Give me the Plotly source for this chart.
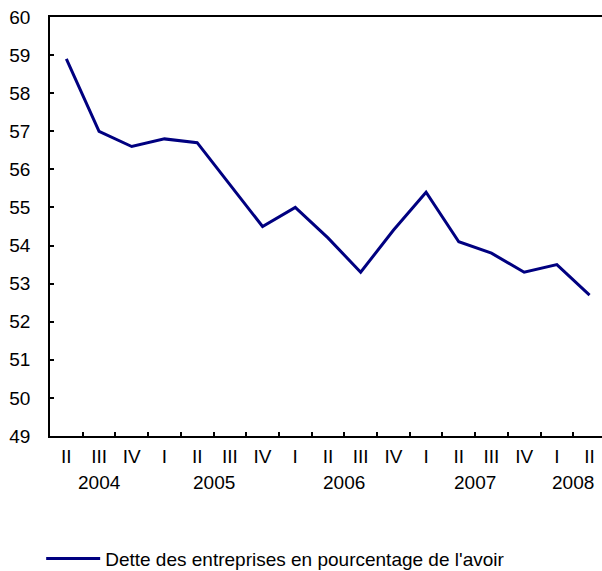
import plotly.graph_objects as go

quarters = ["II", "III", "IV", "I", "II", "III", "IV", "I", "II", "III", "IV",
            "I", "II", "III", "IV", "I", "II"]
years = ["2004", "2005", "2006", "2007", "2008"]
year_centres = [1, 4.5, 8.5, 12.5, 15.5]
dette = [58.9, 57.0, 56.6, 56.8, 56.7, 55.6, 54.5, 55.0, 54.2, 53.3, 54.4,
         55.4, 54.1, 53.8, 53.3, 53.5, 52.7]

x = list(range(len(quarters)))
font = dict(family="Arial, Liberation Sans", size=19, color="black")

fig = go.Figure()
fig.add_trace(go.Scatter(
    x=x, y=dette, mode="lines",
    name="Dette des entreprises en pourcentage de l'avoir",
    line=dict(color="#000080", width=3),
))

for yr, xc in zip(years, year_centres):
    fig.add_annotation(x=xc, y=-0.112, xref="x", yref="paper", text=yr,
                       showarrow=False, yanchor="middle", font=font)

fig.update_layout(
    width=602, height=571,
    margin=dict(l=50, r=0, t=17, b=135, autoexpand=False),
    plot_bgcolor="white", paper_bgcolor="white",
    font=font,
    showlegend=True,
    legend=dict(orientation="h", x=-0.016, xanchor="left", y=-0.293,
                yanchor="middle", font=font, itemwidth=54),
    xaxis=dict(
        range=[-0.5, 16.38], tickvals=x, ticktext=quarters, ticks="",
        showgrid=False, zeroline=False, showline=True, linecolor="black",
        linewidth=1.5, mirror=True, ticklabelstandoff=2,
        minor=dict(tickvals=[i + 0.5 for i in x[:-1]], ticks="inside",
                   ticklen=4, tickcolor="black", tickwidth=1.5),
    ),
    yaxis=dict(
        range=[49, 60], dtick=1, ticks="inside", ticklen=4, tickcolor="black",
        tickwidth=1.5, showgrid=False, zeroline=False, showline=True,
        linecolor="black", linewidth=1.5, ticklabelstandoff=14,
    ),
)

# drop the default 8px body margin so the figure sits at the window corner
fig.write_html("out.html", config={"displayModeBar": False},
               post_script="document.body.style.margin='0';")
